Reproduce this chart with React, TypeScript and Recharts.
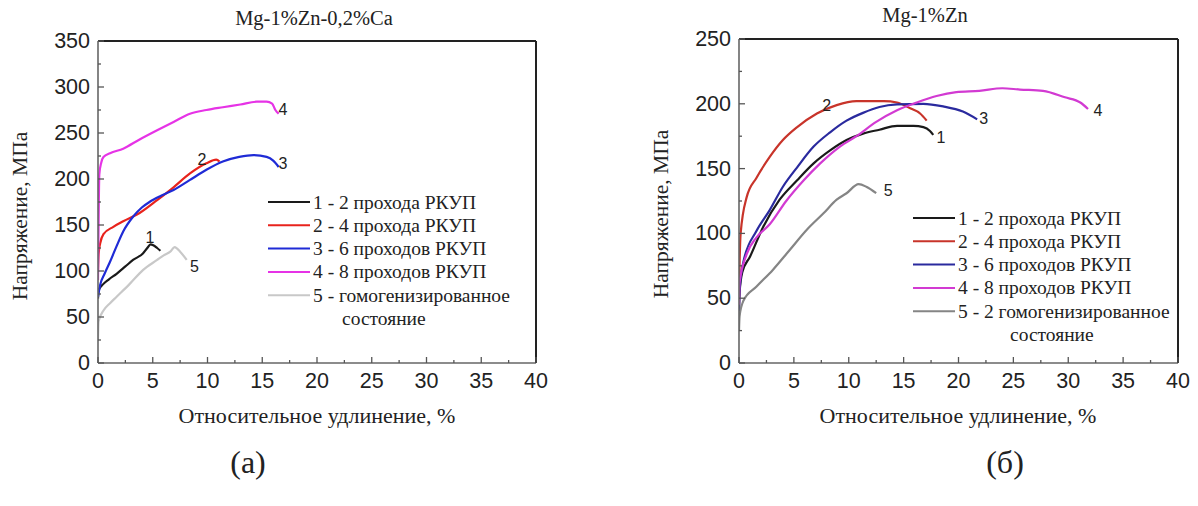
import React from 'react';
import { LineChart, Line, XAxis, YAxis, ReferenceDot } from 'recharts';

type Pt = [number, number];

// (а) Mg-1%Zn-0,2%Ca — [strain %, stress MPa]
const a1: Pt[] = [[0, 70], [0.05, 79], [0.5, 86], [1, 91], [1.7, 97], [2.5, 105], [3.2, 112], [4.1, 119], [4.5, 125], [4.8, 129], [5.05, 128], [5.4, 125], [5.7, 122]];
const a2: Pt[] = [[0, 100], [0.05, 118], [0.2, 130], [0.5, 140], [1.4, 148], [2.3, 154], [3.8, 163], [5.4, 177], [6.9, 191], [8.4, 206], [9.9, 217], [10.8, 221], [11.1, 219]];
const a3: Pt[] = [[0, 72], [0.2, 85], [0.6, 97], [1.1, 110], [1.7, 127], [2.3, 143], [3.2, 159], [4.0, 169], [4.7, 175], [5.8, 182], [6.9, 188], [8.4, 199], [9.9, 210], [11.4, 219], [12.9, 224], [14.2, 226], [15.4, 224], [16.0, 220], [16.5, 213]];
const a4: Pt[] = [[0, 90], [0.05, 150], [0.12, 205], [0.3, 218], [0.5, 224], [1.1, 228], [2.3, 233], [3.8, 243], [5.4, 253], [6.9, 262], [8.4, 271], [9.9, 275], [11.4, 278], [13.0, 281], [14.5, 284], [15.4, 284], [15.9, 282], [16.2, 275], [16.5, 271]];
const a5: Pt[] = [[0, 25], [0.05, 45], [0.5, 57], [1.1, 65], [1.7, 72], [2.9, 86], [4.1, 101], [5.4, 112], [6.0, 117], [6.6, 121], [7.0, 126], [7.5, 121], [8.1, 112]];

// (б) Mg-1%Zn
const b1: Pt[] = [[0, 40], [0.05, 54], [0.3, 70], [1.0, 82], [2.2, 105], [3.7, 126], [5.3, 141], [6.8, 154], [8.3, 164], [9.8, 172], [11.3, 177], [12.8, 180], [14.4, 183], [15.9, 183], [16.8, 182], [17.4, 179], [17.7, 176]];
const b2: Pt[] = [[0, 50], [0.05, 75], [0.15, 100], [0.7, 128], [1.6, 143], [2.8, 159], [4.0, 172], [5.3, 182], [7.1, 192.5], [8.9, 199], [10.7, 202], [13.2, 202], [14.4, 201], [15.6, 196.5], [16.5, 192.5], [17.1, 187]];
const b3: Pt[] = [[0, 40], [0.05, 56], [0.4, 78], [1.6, 102], [2.8, 118], [4.0, 136], [5.3, 151], [6.8, 167], [8.3, 178], [9.8, 187], [11.3, 193], [12.8, 197.5], [14.4, 199.5], [16.8, 200], [18.6, 198], [20.4, 194], [21.7, 188]];
const b4: Pt[] = [[0, 45], [0.05, 62], [0.7, 84], [1.6, 97], [2.8, 107], [4.3, 125], [5.9, 141], [7.4, 154], [9.2, 167], [10.7, 175], [12.5, 186], [14.4, 195], [16.2, 201], [18.0, 206], [19.8, 209], [21.9, 210], [24.0, 212], [25.6, 211], [27.7, 210], [29.7, 205], [31.1, 201], [31.8, 196]];
const b5: Pt[] = [[0, 25], [0.05, 36], [0.4, 48], [1.6, 59], [3.1, 72], [4.6, 87], [6.2, 103], [7.7, 115.5], [8.9, 126], [9.8, 131], [10.9, 138], [11.6, 136], [12.5, 131]];

const xTicks = [0, 2.5, 5, 7.5, 10, 12.5, 15, 17.5, 20, 22.5, 25, 27.5, 30, 32.5, 35, 37.5, 40];
const yTicksA = [0, 25, 50, 75, 100, 125, 150, 175, 200, 225, 250, 275, 300, 325, 350];
const yTicksB = [0, 25, 50, 75, 100, 125, 150, 175, 200, 225, 250];

const colorsA = ['#1a1a1a', '#e8231c', '#1f2bd6', '#e633e6', '#c8c8c8'];
const colorsB = ['#1a1a1a', '#c8342a', '#2a2a9e', '#d23ad2', '#858585'];

const legendA = ['1 - 2 прохода РКУП', '2 - 4 прохода РКУП', '3 - 6 проходов РКУП', '4 - 8 проходов РКУП', '5 - гомогенизированное'];
const legendB = ['1 - 2 прохода РКУП', '2 - 4 прохода РКУП', '3 - 6 проходов РКУП', '4 - 8 проходов РКУП', '5 - 2 гомогенизированное'];

// curve numbers: [text, strain, stress]
const tagsA: [string, number, number][] = [['1', 4.75, 136], ['2', 9.5, 221], ['3', 16.9, 217], ['4', 16.9, 276], ['5', 8.8, 105]];
const tagsB: [string, number, number][] = [['1', 18.4, 174], ['2', 8.0, 199], ['3', 22.3, 189], ['4', 32.7, 195], ['5', 13.6, 133]];

const SERIF = '"Liberation Serif", "Times New Roman", serif';
const SANS = '"Liberation Sans", Arial, sans-serif';

function XTick({ x, y, payload }: any) {
  const major = payload.value % 5 === 0;
  return (
    <g>
      <line x1={x} x2={x} y1={y} y2={y - (major ? 6 : 3)} stroke="#555" strokeWidth={1.3} />
      {major && (
        <text x={x} y={y + 18} textAnchor="middle" dominantBaseline="central" fontFamily={SANS} fontSize={21.5} fill="#222">
          {payload.value}
        </text>
      )}
    </g>
  );
}

function YTick({ x, y, payload }: any) {
  const major = payload.value % 50 === 0;
  return (
    <g>
      <line x1={x} x2={x + (major ? 6 : 3)} y1={y} y2={y} stroke="#555" strokeWidth={1.3} />
      {major && (
        <text x={x - 8} y={y} textAnchor="end" dominantBaseline="central" fontFamily={SANS} fontSize={21.5} fill="#222">
          {payload.value}
        </text>
      )}
    </g>
  );
}

function Panel({ left, width, margin, series, colors, yMax, yTicks, tags }: any) {
  return (
    <div style={{ position: 'absolute', left, top: 0 }}>
      <LineChart width={width} height={400} margin={margin}>
        <XAxis dataKey="x" type="number" domain={[0, 40]} ticks={xTicks} interval={0} tickSize={0} tickMargin={0} height={1}
          tick={<XTick />} tickLine={false} axisLine={{ stroke: '#666', strokeWidth: 1.6 }} allowDataOverflow />
        <XAxis xAxisId="top" orientation="top" type="number" domain={[0, 40]} height={1} tick={false} tickLine={false}
          axisLine={{ stroke: '#222', strokeWidth: 2 }} />
        <YAxis type="number" domain={[0, yMax]} ticks={yTicks} interval={0} tickSize={0} tickMargin={0} width={1}
          tick={<YTick />} tickLine={false} axisLine={{ stroke: '#666', strokeWidth: 1.6 }} allowDataOverflow />
        <YAxis yAxisId="right" orientation="right" type="number" domain={[0, yMax]} width={1} tick={false} tickLine={false}
          axisLine={{ stroke: '#222', strokeWidth: 2 }} />
        {series.map((pts: Pt[], i: number) => (
          <Line key={i} data={pts.map(([x, y]) => ({ x, y }))} dataKey="y" type="monotone" stroke={colors[i]}
            strokeWidth={2.2} dot={false} activeDot={false} isAnimationActive={false} />
        ))}
        {tags.map(([t, x, y]: [string, number, number]) => (
          <ReferenceDot key={t} x={x} y={y} r={0} ifOverflow="visible"
            shape={(p: any) => (
              <text x={p.cx} y={p.cy} textAnchor="middle" dominantBaseline="central" fontFamily={SANS} fontSize={16} fill="#222">
                {t}
              </text>
            )} />
        ))}
      </LineChart>
    </div>
  );
}

function LegendBlock({ x, y, labels, colors, tail, tailX }: any) {
  return (
    <g>
      {labels.map((s: string, i: number) => (
        <g key={i}>
          <line x1={x} x2={x + 42} y1={y + i * 23.3} y2={y + i * 23.3} stroke={colors[i]} strokeWidth={2} />
          <text x={x + 45} y={y + i * 23.3} dominantBaseline="central" fontFamily={SERIF} fontSize={19.5} fill="#222">{s}</text>
        </g>
      ))}
      <text x={tailX} y={y + 5 * 23.3} dominantBaseline="central" fontFamily={SERIF} fontSize={19.5} fill="#222">{tail}</text>
    </g>
  );
}

export default function App() {
  const txt = { fontFamily: SERIF, fill: '#222' };
  return (
    <div style={{ position: 'absolute', left: 0, top: 0, width: 1198, height: 506, background: '#fff' }}>
      <Panel left={0} width={560} margin={{ top: 40, left: 97, right: 23, bottom: 36 }}
        series={[a1, a2, a3, a4, a5]} colors={colorsA} yMax={350} yTicks={yTicksA} tags={tagsA} />
      <Panel left={600} width={598} margin={{ top: 38, left: 138, right: 19, bottom: 36 }}
        series={[b1, b2, b3, b4, b5]} colors={colorsB} yMax={250} yTicks={yTicksB} tags={tagsB} />
      <svg width={1198} height={506} style={{ position: 'absolute', left: 0, top: 0, pointerEvents: 'none' }}>
        <text x={314} y={18} textAnchor="middle" dominantBaseline="central" fontSize={20.5} {...txt}>Mg-1%Zn-0,2%Ca</text>
        <text x={925} y={15} textAnchor="middle" dominantBaseline="central" fontSize={20.5} {...txt}>Mg-1%Zn</text>
        <text transform="translate(20,216) rotate(-90)" textAnchor="middle" dominantBaseline="central" fontSize={21.5} {...txt}>Напряжение, МПа</text>
        <text transform="translate(661,214) rotate(-90)" textAnchor="middle" dominantBaseline="central" fontSize={21.5} {...txt}>Напряжение, МПа</text>
        <text x={317} y={415} textAnchor="middle" dominantBaseline="central" fontSize={22} {...txt}>Относительное удлинение, %</text>
        <text x={958} y={415} textAnchor="middle" dominantBaseline="central" fontSize={22} {...txt}>Относительное удлинение, %</text>
        <text x={248} y={462} textAnchor="middle" dominantBaseline="central" fontSize={32} {...txt}>(а)</text>
        <text x={1005} y={462} textAnchor="middle" dominantBaseline="central" fontSize={32} {...txt}>(б)</text>
        <LegendBlock x={268} y={202} labels={legendA} colors={colorsA} tail="состояние" tailX={342} />
        <LegendBlock x={913} y={218} labels={legendB} colors={colorsB} tail="состояние" tailX={1010} />
      </svg>
    </div>
  );
}
